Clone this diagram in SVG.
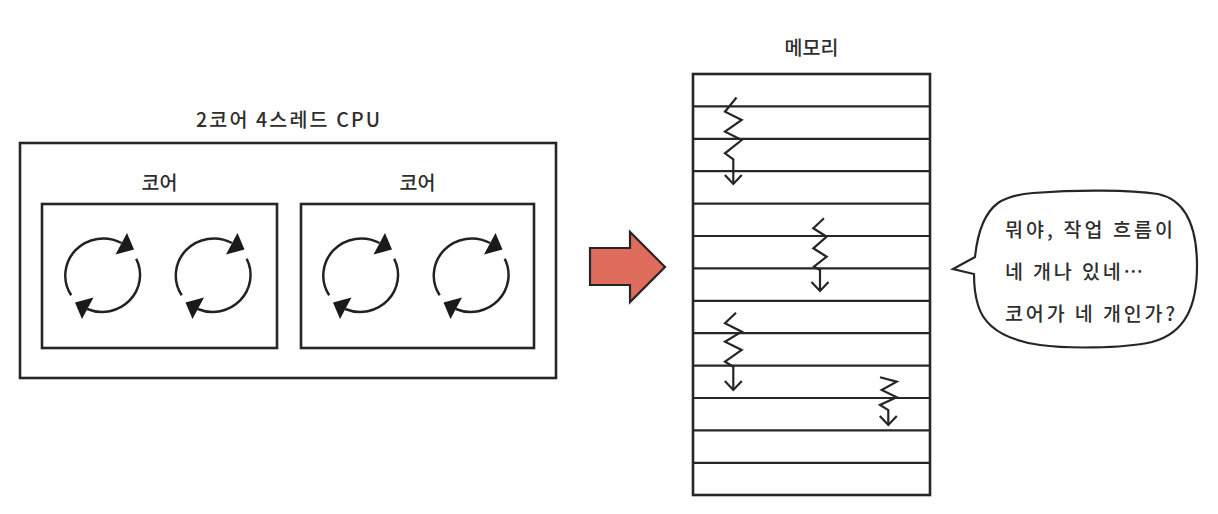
<svg xmlns="http://www.w3.org/2000/svg" width="1218" height="514" viewBox="0 0 1218 514">
  <style>
    .box { fill: none; stroke: #262626; stroke-width: 2.6; }
    .line { fill: none; stroke: #262626; stroke-width: 2.2; }
    .arc { fill: none; stroke: #222; stroke-width: 2.5; }
    .zig { fill: none; stroke: #262626; stroke-width: 2.2; stroke-linejoin: miter; marker-end: url(#vhead); }
    .lbl { font-family: "Noto Sans CJK KR", "Noto Sans", sans-serif; font-size: 19.5px; font-weight: 500; fill: #2e2e2e; }
    .mid { text-anchor: middle; }
  </style>
  <defs>
    <marker id="vhead" markerUnits="userSpaceOnUse" viewBox="-12 -11 14 22" markerWidth="14" markerHeight="22" refX="0" refY="0" orient="auto">
      <path d="M-9,-8.5 L0,0 L-9,8.5" fill="none" stroke="#262626" stroke-width="2.2"/>
    </marker>
    <g id="cycle">
      <path d="M-33.3,19.3 A38 37 0 0 1 17,-33" class="arc"/>
      <path d="M31.7,-17.3 A38 37 0 0 1 -17.3,33" class="arc"/>
      <polygon points="11,-21.5 22.5,-43 29.5,-26.5" fill="#1a1a1a"/>
      <polygon points="-11,21.5 -22.5,43 -29.5,26.5" fill="#1a1a1a"/>
    </g>
  </defs>
  <rect width="1218" height="514" fill="#ffffff"/>

  <g id="cpu">
    <text class="lbl mid" x="288" y="127" textLength="184" lengthAdjust="spacing">2코어 4스레드 CPU</text>
    <rect class="box" x="20" y="143" width="536" height="235"/>
  </g>

  <g id="core1">
    <text class="lbl mid" x="159.5" y="190">코어</text>
    <rect class="box" x="42" y="204" width="235" height="144"/>
    <use href="#cycle" x="104.5" y="276"/>
    <use href="#cycle" x="215" y="276"/>
  </g>

  <g id="core2">
    <text class="lbl mid" x="417.5" y="190">코어</text>
    <rect class="box" x="301" y="204" width="233" height="144"/>
    <use href="#cycle" x="362.5" y="276"/>
    <use href="#cycle" x="473" y="276"/>
  </g>

  <g id="memory">
    <text class="lbl mid" x="811.5" y="55">메모리</text>
    <rect class="box" x="693" y="74" width="237" height="421"/>
    <g class="line">
      <line x1="693" y1="106.4" x2="930" y2="106.4"/>
      <line x1="693" y1="138.8" x2="930" y2="138.8"/>
      <line x1="693" y1="171.2" x2="930" y2="171.2"/>
      <line x1="693" y1="203.6" x2="930" y2="203.6"/>
      <line x1="693" y1="236" x2="930" y2="236"/>
      <line x1="693" y1="268.4" x2="930" y2="268.4"/>
      <line x1="693" y1="300.8" x2="930" y2="300.8"/>
      <line x1="693" y1="333.2" x2="930" y2="333.2"/>
      <line x1="693" y1="365.6" x2="930" y2="365.6"/>
      <line x1="693" y1="398" x2="930" y2="398"/>
      <line x1="693" y1="430.4" x2="930" y2="430.4"/>
      <line x1="693" y1="462.8" x2="930" y2="462.8"/>
    </g>
    <g id="flows">
      <path class="zig" d="M736.5,97.5 L725,111.7 L741.7,120 L725,131.7 L741.7,140 L725,153.3 L733.3,159.3 L733.3,184"/>
      <path class="zig" d="M824,218.3 L813.3,228.3 L826.7,236.7 L813.3,248.3 L826.7,256.7 L814,266.7 L820,270 L820,291"/>
      <path class="zig" d="M736,312.7 L725,323.3 L741.7,331.7 L725,341.7 L741.7,350 L725,361.7 L733.3,366.7 L733.3,390"/>
      <path class="zig" d="M880,377.3 L896.7,381.7 L881.7,390 L896.7,397.3 L880,405 L888.3,410 L888.3,425"/>
    </g>
  </g>

  <g id="bubble">
    <path class="line" d="M1033,193 C1080,189.5 1130,190 1158,194 C1186,200 1197,228 1197,266 C1197,305 1186,333 1152,342 C1120,349 1065,348.5 1040,345 C1005,340 984,326 978,305 C974,292 974,282 974,274 L953,269 L975,257 C977,238 983,214 998,203 C1008,196 1020,194 1033,193 Z"/>
    <text class="lbl" x="1005" y="237" textLength="168" lengthAdjust="spacing">뭐야, 작업 흐름이</text>
    <text class="lbl" x="1005" y="279" textLength="138" lengthAdjust="spacing">네 개나 있네…</text>
    <text class="lbl" x="1005" y="321" textLength="170" lengthAdjust="spacing">코어가 네 개인가?</text>
  </g>

  <g id="connectors">
    <polygon points="590,248 630,248 630,232 665,267 630,302 630,285 590,285" fill="#DE6D5E" stroke="#262626" stroke-width="2.2" stroke-linejoin="miter"/>
  </g>
</svg>
